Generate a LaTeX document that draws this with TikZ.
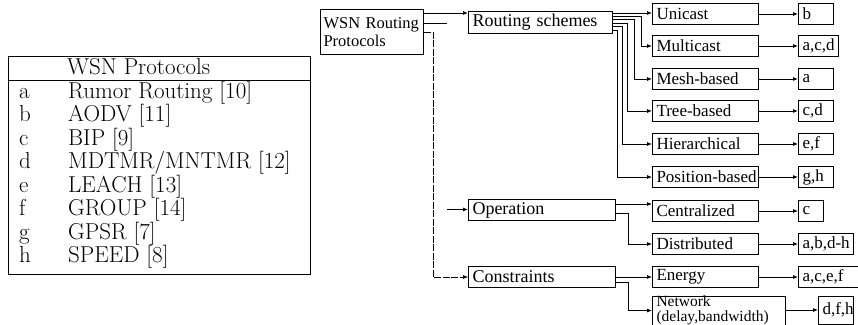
\documentclass[tikz,border=0pt]{standalone}
\usepackage{fontspec}
\newfontfamily\mincho{Liberation Serif}
\usetikzlibrary{positioning,arrows.meta}

\newcommand{\tabfont}{\fontsize{23}{24}\selectfont}
\newcommand{\nobreaks}{\hyphenpenalty=10000\exhyphenpenalty=10000}

\begin{document}
\begin{tikzpicture}[%
    x=1pt, y=-1pt,
    box/.style={draw, line width=1pt, anchor=north west, inner xsep=4pt, inner ysep=0pt,
        minimum height=21pt, align=left, font=\mincho\fontsize{17}{12}\selectfont,
        execute at begin node=\nobreaks},
    lbl/.style={box, inner xsep=4pt},
    row/.style={anchor=base west, inner sep=0pt, font=\tabfont},
    arr/.style={-{Latex[length=5pt,width=4pt]}, line width=0.8pt},
    ln/.style={line width=0.8pt}]

    \useasboundingbox (0,0) rectangle (858,324);

    % protocol table
    \draw[line width=1pt] (8,56) rectangle (310,274);
    \draw[line width=1pt] (8,80) -- (310,80);
    \node[row] (hd) at (67,74) {WSN Protocols};
    \node[row] (ka) at (19,98) {a};      \node[row] (pa) at (68,98) {Rumor Routing [10]};
    \node[row] (kb) at (19,121.5) {b};   \node[row] (pb) at (68,121.5) {AODV [11]};
    \node[row] (kc) at (19,145) {c};     \node[row] (pc) at (68,145) {BIP [9]};
    \node[row] (kd) at (19,168.5) {d};   \node[row] (pd) at (68,168.5) {MDTMR/MNTMR [12]};
    \node[row] (ke) at (19,192) {e};     \node[row] (pe) at (68,192) {LEACH [13]};
    \node[row] (kf) at (19,215.5) {f};   \node[row] (pf) at (68,215.5) {GROUP [14]};
    \node[row] (kg) at (19,239) {g};     \node[row] (pg) at (68,239) {GPSR [7]};
    \node[row] (kh) at (19,262.5) {h};   \node[row] (ph) at (68,262.5) {SPEED [8]};

    % classification tree
    \node[box, inner xsep=3pt, text width=97pt, minimum height=45pt, font=\mincho\fontsize{16.5}{18}\selectfont] (root) at (320,9) {WSN Routing\\Protocols};

    \node[box, text width=136pt, minimum height=22pt, font=\mincho\fontsize{18}{12}\selectfont] (rs) at (468,11) {Routing schemes};
    \node[box, text width=139pt, font=\mincho\fontsize{18}{12}\selectfont] (op) at (468,199) {Operation};
    \node[box, text width=139pt, font=\mincho\fontsize{18}{12}\selectfont] (con) at (468,266) {Constraints};

    \node[box, text width=98pt] (uni) at (652,3) {Unicast};
    \node[box, text width=98pt] (mul) at (652,35) {Multicast};
    \node[box, text width=98pt] (mesh) at (652,68) {Mesh-based};
    \node[box, text width=98pt] (tree) at (652,100) {Tree-based};
    \node[box, text width=98pt] (hier) at (652,133) {Hierarchical};
    \node[box, text width=98pt] (pos) at (652,166) {Position-based};
    \node[box, text width=98pt] (cen) at (652,200) {Centralized};
    \node[box, text width=98pt] (dis) at (652,233) {Distributed};
    \node[box, text width=98pt] (ene) at (652,266) {Energy};
    \node[box, text width=125pt, minimum height=28pt, font=\mincho\fontsize{15.5}{15}\selectfont] (net) at (652,295.5) {Network\\(delay,bandwidth)};

    \node[lbl, text width=27pt] (ub) at (798,3) {b};
    \node[lbl, text width=32pt] (mb) at (798,35) {a,c,d};
    \node[lbl, text width=27pt] (meb) at (798,68) {a};
    \node[lbl, text width=27pt] (tb) at (798,100) {c,d};
    \node[lbl, text width=27pt] (hb) at (798,133) {e,f};
    \node[lbl, text width=27pt] (pb) at (798,166) {g,h};
    \node[lbl, text width=17pt] (cb) at (798,200) {c};
    \node[lbl, text width=47pt] (db) at (798,233) {a,b,d-h};
    \node[lbl, text width=52pt] (eb) at (798,266) {a,c,e,f};
    \node[lbl, text width=27pt, minimum height=28pt] (nb) at (818,295.5) {d,f,h};

    \coordinate (stub) at (447,23);
    \coordinate (bend) at (433,32);
    \coordinate (opin) at (447,209.5);

    \draw[arr] ([yshift=-4pt]root.north east) coordinate (r1) -- (r1 -| rs.west);
    \draw[ln] (root.east |- stub) -- (stub);
    \draw[arr, line width=0.5pt, dash pattern=on 7pt off 1.5pt] (root.east |- bend) -- (bend) |- (con.west);
    \draw[arr] (opin) -- (opin -| op.west);

    \draw[arr] ([yshift=-2pt]rs.north east) coordinate (s1) -- (s1 -| uni.west);
    \draw[arr] ([yshift=-5pt]rs.north east) -- ++(28,0) |- (mul.west);
    \draw[arr] ([yshift=-8.5pt]rs.north east) -- ++(21,0) |- (mesh.west);
    \draw[arr] ([yshift=-12pt]rs.north east) -- ++(14,0) |- (tree.west);
    \draw[arr] ([yshift=-15.5pt]rs.north east) -- ++(9,0) |- (hier.west);
    \draw[arr] ([yshift=-19pt]rs.north east) -- ++(4,0) |- (pos.west);

    \draw[arr] ([yshift=-5pt]op.north east) coordinate (o1) -- (o1 -| cen.west);
    \draw[arr] ([yshift=-14pt]op.north east) -- ++(12,0) |- (dis.west);
    \draw[arr] (con.east) -- (ene.west);
    \draw[arr] ([yshift=-16pt]con.north east) -- ++(12,0) |- (net.west);

    \draw[arr] (uni) -- (ub);
    \draw[arr] (mul) -- (mb);
    \draw[arr] (mesh) -- (meb);
    \draw[arr] (tree) -- (tb);
    \draw[arr] (hier) -- (hb);
    \draw[arr] (pos) -- (pb);
    \draw[arr] (cen) -- (cb);
    \draw[arr] (dis) -- (db);
    \draw[arr] (ene) -- (eb);
    \draw[arr] (nb.west -| net.east) -- (nb.west);
\end{tikzpicture}
\end{document}
